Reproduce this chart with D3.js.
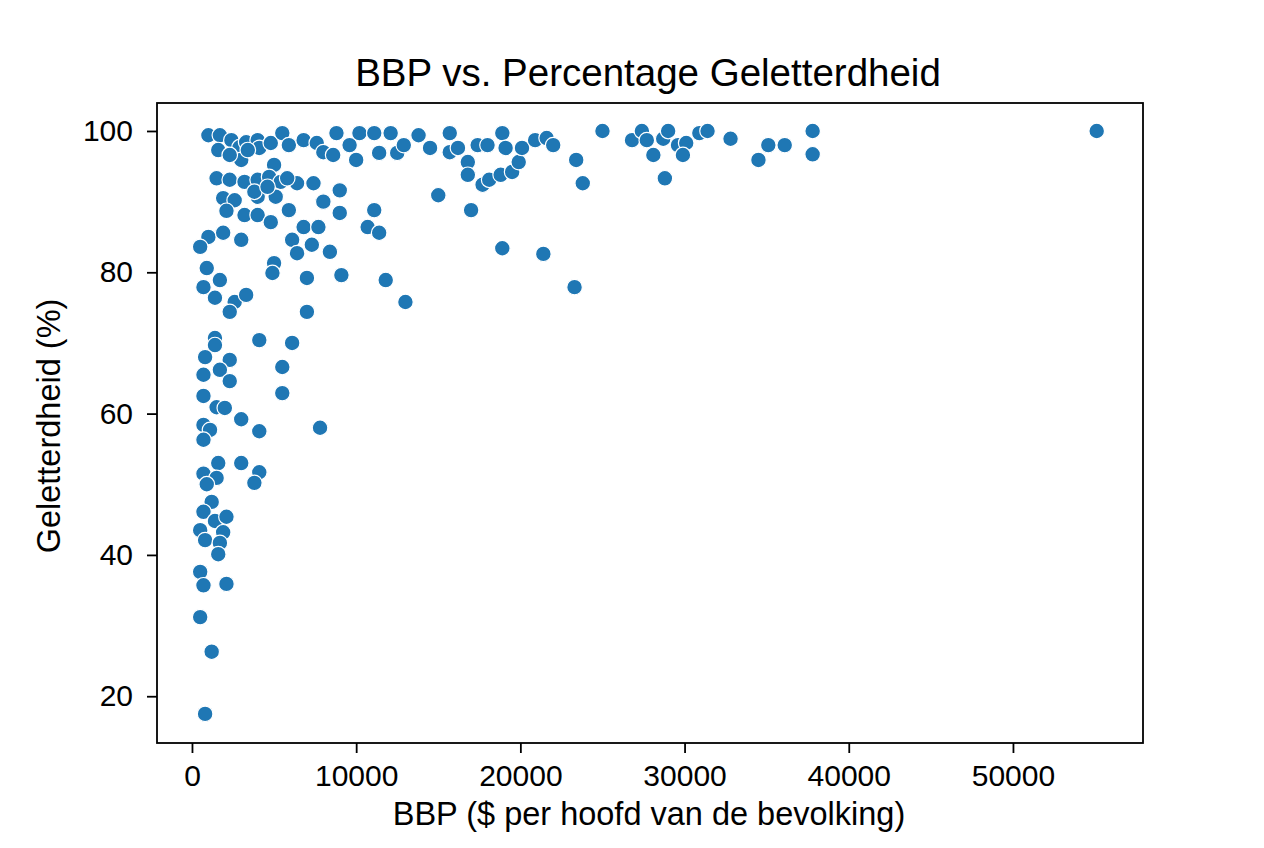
<!DOCTYPE html>
<html>
<head>
<meta charset="utf-8">
<script src="https://cdn.jsdelivr.net/npm/d3@7"></script>
<style>
  html, body { margin: 0; padding: 0; background: #fff; }
  svg text { font-family: "Liberation Sans", Arial, sans-serif; fill: #000; }
</style>
</head>
<body>
<svg id="chart" width="1264" height="848"></svg>
<script>
const title = "BBP vs. Percentage Geletterdheid";
const xLabel = "BBP ($ per hoofd van de bevolking)";
const yLabel = "Geletterdheid (%)";
const xTicks = [0, 10000, 20000, 30000, 40000, 50000];
const yTicks = [20, 40, 60, 80, 100];

const gdp = [
  1000, 1700, 2400, 2900, 3000, 1600, 3300, 4000, 4100, 4800,
  5000, 5500, 5900, 6800, 7600, 8000, 8600, 8800, 9600, 10000,
  10200, 11100, 11400, 12100, 12500, 12900, 13800, 1500, 2300, 3200,
  4000, 4700, 5400, 6400, 7400, 9000, 1900, 2600, 4000, 5100,
  8000, 2100, 3200, 4000, 4800, 5900, 9000, 11100, 1000, 500,
  1900, 3000, 6100, 6800, 7700, 7300, 8400, 6400, 10700, 11400,
  900, 1700, 700, 5000, 4900, 7000, 9100, 11800, 1400, 2600,
  3300, 2300, 7000, 13000, 1400, 1400, 800, 2300, 1700, 700,
  2300, 4100, 6100, 5500, 5500, 700, 1500, 2000, 3000, 700,
  1100, 700, 4100, 7800, 1600, 3000, 700, 1500, 900, 4100,
  3800, 1200, 700, 1400, 2100, 500, 1900, 800, 1700, 1600,
  500, 700, 2100, 500, 1200, 800,
  14500, 15700, 15700, 16200, 16800, 16800, 17400, 18000, 17700, 18100,
  18800, 19500, 19900, 18900, 19100, 20100, 20900, 21600, 22000, 23400,
  23800, 25000, 26800, 27400, 27700, 28100, 15000, 17000, 18900, 21400,
  23300, 28700, 29000, 29600, 30100, 29900, 30900, 31400, 28800, 32800,
  35100, 36100, 34500, 37800, 37800, 55100,
  2300, 3400, 5800, 3800, 4600
];
const literacy = [
  99.4, 99.4, 98.7, 97.7, 95.9, 97.3, 98.4, 98.7, 97.6, 98.3,
  95.2, 99.7, 98.0, 98.7, 98.3, 97.0, 96.6, 99.7, 98.0, 95.9,
  99.7, 99.7, 96.9, 99.7, 96.9, 98.0, 99.4, 93.3, 93.1, 92.8,
  93.1, 93.5, 92.8, 92.6, 92.6, 91.6, 90.5, 90.2, 90.7, 90.7,
  90.0, 88.7, 88.1, 88.1, 87.1, 88.8, 88.4, 88.8, 85.0, 83.6,
  85.6, 84.6, 84.6, 86.4, 86.4, 83.9, 82.9, 82.7, 86.4, 85.6,
  80.6, 78.9, 77.9, 81.3, 79.9, 79.2, 79.6, 78.9, 76.4, 75.8,
  76.8, 74.4, 74.4, 75.8, 70.7, 69.7, 68.0, 67.6, 66.2, 65.5,
  64.6, 70.4, 70.0, 66.6, 62.9, 62.5, 60.9, 60.8, 59.2, 58.4,
  57.7, 56.3, 57.5, 58.0, 53.0, 53.0, 51.5, 50.9, 50.0, 51.7,
  50.2, 47.5, 46.1, 44.8, 45.4, 43.5, 43.2, 42.1, 41.7, 40.1,
  37.6, 35.7, 35.9, 31.2, 26.3, 17.5,
  97.6, 99.7, 97.0, 97.6, 95.6, 93.8, 98.0, 98.0, 92.4, 93.1,
  93.8, 94.2, 95.6, 99.7, 97.6, 97.6, 98.7, 99.0, 98.0, 95.9,
  92.6, 100.0, 98.7, 100.0, 98.7, 96.6, 90.9, 88.8, 83.4, 82.6,
  77.9, 98.9, 100.0, 98.0, 98.3, 96.6, 99.7, 100.0, 93.3, 98.9,
  98.0, 98.0, 95.9, 100.0, 96.7, 100.0,
  96.6, 97.3, 93.3, 91.4, 92.1
];

const points = gdp.map((g, i) => ({ g, l: literacy[i] }));

const svg = d3.select("#chart");
const mLeft = 157, mRight = 1143, mTop = 103, mBottom = 743;

const x = d3.scaleLinear().domain([-2130, 57920]).range([mLeft, mRight]);
const y = d3.scaleLinear().domain([13.38, 103.96]).range([mBottom, mTop]);

// points
svg.append("g")
  .selectAll("circle")
  .data(points)
  .join("circle")
  .attr("cx", d => x(d.g))
  .attr("cy", d => y(d.l))
  .attr("r", 7.8)
  .attr("fill", "#1f77b4")
  .attr("stroke", "#ffffff")
  .attr("stroke-width", 1.2);

// frame
svg.append("rect")
  .attr("x", mLeft).attr("y", mTop)
  .attr("width", mRight - mLeft).attr("height", mBottom - mTop)
  .attr("fill", "none").attr("stroke", "#000").attr("stroke-width", 1.8);

// x axis
const xAxis = svg.append("g")
  .attr("transform", `translate(0,${mBottom})`)
  .call(d3.axisBottom(x).tickValues(xTicks).tickFormat(d3.format("d")).tickSize(10).tickPadding(12));
xAxis.select(".domain").remove();
xAxis.selectAll("line").attr("stroke", "#000").attr("stroke-width", 1.8);
xAxis.selectAll("text").style("font-size", "30px").attr("fill", "#000");

// y axis
const yAxis = svg.append("g")
  .attr("transform", `translate(${mLeft},0)`)
  .call(d3.axisLeft(y).tickValues(yTicks).tickFormat(d3.format("d")).tickSize(10).tickPadding(14));
yAxis.select(".domain").remove();
yAxis.selectAll("line").attr("stroke", "#000").attr("stroke-width", 1.8);
yAxis.selectAll("text").style("font-size", "30px").attr("fill", "#000");

// title
svg.append("text")
  .attr("x", (mLeft + mRight) / 2 - 2).attr("y", 86)
  .attr("text-anchor", "middle")
  .style("font-size", "38.5px")
  .text(title);

// x label
svg.append("text")
  .attr("x", (mLeft + mRight) / 2 - 1).attr("y", 825)
  .attr("text-anchor", "middle")
  .style("font-size", "32.5px")
  .text(xLabel);

// y label
svg.append("text")
  .attr("transform", `translate(60,${(mTop + mBottom) / 2 + 3}) rotate(-90)`)
  .attr("text-anchor", "middle")
  .style("font-size", "32.5px")
  .text(yLabel);
</script>
</body>
</html>
